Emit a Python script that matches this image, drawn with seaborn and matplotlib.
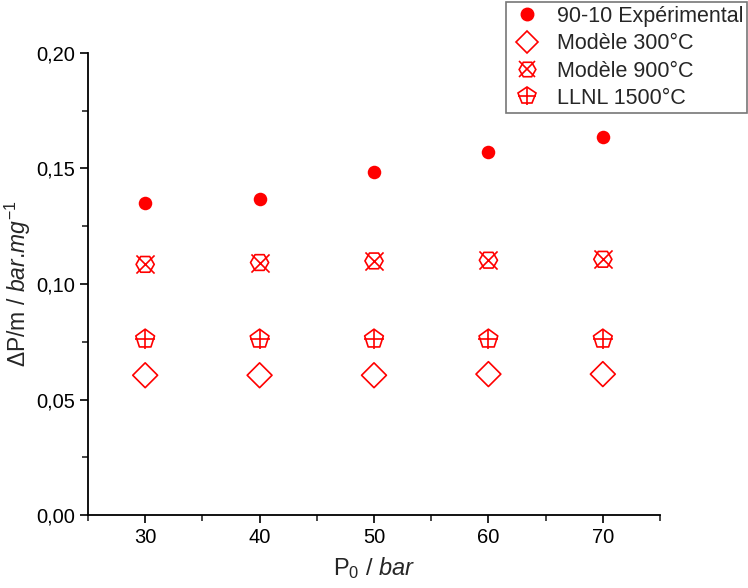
import numpy as np
import pandas as pd
import seaborn as sns
import matplotlib
matplotlib.use('Agg')
import matplotlib.pyplot as plt
from matplotlib.ticker import FuncFormatter, MultipleLocator
from matplotlib.legend_handler import HandlerTuple
from matplotlib.lines import Line2D

sns.set_style("ticks")
plt.rcParams['font.family'] = ['Liberation Sans', 'DejaVu Sans']
plt.rcParams['mathtext.fontset'] = 'custom'
plt.rcParams['mathtext.rm'] = 'Liberation Sans'
plt.rcParams['mathtext.it'] = 'Liberation Sans:italic'

# === Data ===
pressure = [30, 40, 50, 60, 70]
exp_90_10 = [0.135, 0.137, 0.1485, 0.157, 0.1635]
mod_300 = [0.0605, 0.0605, 0.0605, 0.061, 0.061]
mod_900 = [0.1085, 0.1093, 0.11, 0.1103, 0.1107]
llnl_1500 = [0.0762, 0.0762, 0.0762, 0.0762, 0.0762]
labels = ['90-10 Expérimental', 'Modèle 300°C', 'Modèle 900°C', 'LLNL 1500°C']

red = '#ff0000'
df = pd.DataFrame({'p': pressure, 'exp': exp_90_10, 'm300': mod_300,
                   'm900': mod_900, 'llnl': llnl_1500})

fig = plt.figure(figsize=(7.48, 5.88), dpi=100)
ax = fig.add_axes([0.1176, 0.1241, 0.7648, 0.7858])

sns.scatterplot(data=df, x='p', y='exp', ax=ax, marker='o', s=95, color=red, edgecolor=red, linewidth=0)
sns.scatterplot(data=df, x='p', y='m300', ax=ax, marker='D', s=160, facecolor='none', edgecolor=red, linewidth=1.2)
sns.scatterplot(data=df, x='p', y='m900', ax=ax, marker='H', s=170, facecolor='none', edgecolor=red, linewidth=1.2)
sns.scatterplot(data=df, x='p', y='m900', ax=ax, marker='x', s=170, color=red, linewidth=1.2)
sns.scatterplot(data=df, x='p', y='llnl', ax=ax, marker='p', s=200, facecolor='none', edgecolor=red, linewidth=1.2)
sns.scatterplot(data=df, x='p', y='llnl', ax=ax, marker='+', s=200, color=red, linewidth=1.2)

ax.set_xlim(25, 75)
ax.set_ylim(0, 0.20)
ax.xaxis.set_major_locator(MultipleLocator(10))
ax.xaxis.set_minor_locator(MultipleLocator(5))
ax.yaxis.set_major_locator(MultipleLocator(0.05))
ax.yaxis.set_minor_locator(MultipleLocator(0.025))
ax.yaxis.set_major_formatter(FuncFormatter(lambda v, _: f"{v:.2f}".replace('.', ',')))
ax.tick_params(which='major', direction='out', length=6, width=1.2, labelsize=14.5, colors='black')
ax.tick_params(which='minor', direction='out', length=4, width=1.2)
for s in ['top', 'right']:
    ax.spines[s].set_visible(False)
for s in ['left', 'bottom']:
    ax.spines[s].set_linewidth(1.3)
    ax.spines[s].set_color('black')

ax.set_xlabel(r'P$_0$ / $\mathit{bar}$', fontsize=17, labelpad=6)
ax.set_ylabel(r'$\Delta$P/m / $\mathit{bar}$.$\mathit{mg}^{-1}$', fontsize=16.5, labelpad=2)

# legend with combined markers
h_exp = Line2D([], [], ls='none', marker='o', ms=9, color=red, mec=red)
h_300 = Line2D([], [], ls='none', marker='D', ms=11, mfc='none', mec=red, mew=1.2)
h_900a = Line2D([], [], ls='none', marker='H', ms=12, mfc='none', mec=red, mew=1.2)
h_900b = Line2D([], [], ls='none', marker='x', ms=12, color=red, mew=1.2)
h_llnla = Line2D([], [], ls='none', marker='p', ms=13, mfc='none', mec=red, mew=1.2)
h_llnlb = Line2D([], [], ls='none', marker='+', ms=13, color=red, mew=1.2)
leg = fig.legend([h_exp, h_300, (h_900a, h_900b), (h_llnla, h_llnlb)], labels,
                 handler_map={tuple: HandlerTuple(ndivide=1, pad=0)},
                 loc='upper right', bbox_to_anchor=(0.999, 0.997), borderaxespad=0, fontsize=15.5,
                 frameon=True, fancybox=False, edgecolor='#555555',
                 handlelength=1.6, handletextpad=0.6, labelspacing=0.3, borderpad=0.18)
leg.get_frame().set_linewidth(1.2)

plt.savefig('out.png', dpi=100)
